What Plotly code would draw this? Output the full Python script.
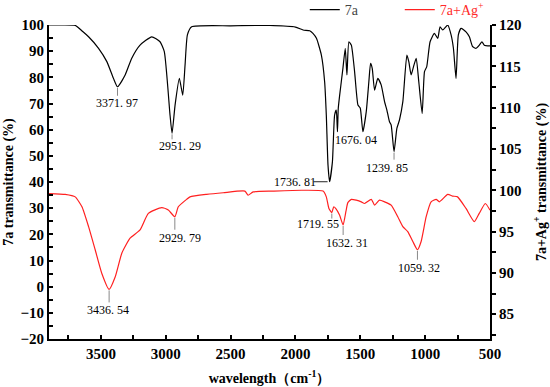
import plotly.graph_objects as go

# ---- data ----
black_wn = [3900, 3800, 3697, 3640, 3595, 3518, 3454, 3403, 3371.97, 3313, 3262, 3198, 3108, 3044, 3011,
            2967, 2951.29, 2928, 2895, 2869, 2851, 2833, 2800, 2500, 2198, 2000, 1941, 1890, 1865, 1838,
            1800, 1775, 1762, 1749, 1736.81, 1715, 1698, 1685, 1676.04, 1670, 1659, 1634, 1616, 1603,
            1588, 1569, 1544, 1518, 1500, 1480, 1454, 1434, 1421, 1408, 1390, 1365, 1339, 1313, 1295,
            1275, 1262, 1239.85, 1218, 1198, 1172, 1141, 1126, 1108, 1090, 1069, 1049, 1023, 1005, 988,
            962, 929, 903, 885, 865, 826, 800, 782, 762, 744, 723, 685, 659, 634, 608, 582, 562, 544, 500]
black_val = [100, 100, 99.8, 97.5, 95.5, 91.1, 86.0, 79.6, 76.4, 80.9, 87.3, 92.3, 95.5, 93.6, 89.8,
             65.6, 58.6, 69.4, 79.6, 73.2, 84.7, 96.2, 99.3, 99.7, 99.8, 99.2, 98.1, 97.8, 96.8, 94.9,
             88.5, 78.3, 65.6, 46.5, 40.1, 47.7, 65.6, 67.5, 59.2, 68.0, 73.2, 83.4, 91.1, 80.9,
             93.6, 92.3, 82.2, 69.4, 68.2, 59.2, 66.9, 78.3, 85.3, 83.4, 75.1, 79.6, 77.1, 70.7, 67.5,
             63.0, 61.8, 51.6, 60.5, 63.7, 70.7, 88.5, 86.0, 80.9, 84.0, 87.3, 78.3, 66.2, 82.2, 84.0,
             93.6, 96.8, 94.9, 99.3, 98.1, 100, 96.2, 91.1, 79.6, 96.2, 98.7, 97.4, 95.5, 91.7, 91.1,
             92.3, 93.6, 92.3, 92.0]

red_wn = [3900, 3775, 3698, 3646, 3595, 3544, 3492, 3436.54, 3390, 3338, 3275, 3198, 3134, 3031, 2980,
          2929.79, 2903, 2839, 2813, 2685, 2557, 2390, 2365, 2326, 2172, 1950, 1787, 1762, 1742, 1719.55,
          1705, 1690, 1660, 1632.31, 1610, 1596, 1569, 1531, 1492, 1467, 1415, 1390, 1352, 1313, 1262,
          1211, 1172, 1134, 1095, 1059.32, 1031, 992, 954, 915, 890, 826, 788, 750, 685, 621, 583, 536, 500]
red_val = [99.6, 99.5, 99.2, 98.0, 95.6, 92.8, 89.9, 88.0, 89.5, 92.4, 94.2, 95.2, 97.2, 97.9, 97.6,
           96.8, 98.0, 98.9, 99.2, 99.5, 99.7, 99.9, 99.4, 99.8, 99.9, 100.0, 99.9, 99.2, 97.8, 97.3,
           98.0, 97.8, 97.0, 95.8, 97.5, 98.5, 98.9, 98.8, 98.6, 98.4, 98.9, 98.2, 98.8, 98.6, 98.2,
           96.8, 95.6, 95.0, 93.8, 92.8, 93.8, 96.8, 98.6, 98.9, 98.6, 99.5, 99.3, 99.2, 97.8, 96.2, 97.2, 98.4, 97.6]

# labelled peaks
black_peaks = [3371.97, 2951.29, 1736.81, 1676.04, 1239.85]
black_peak_val = [76.4, 58.6, 40.1, 59.2, 51.6]
red_peaks = [3436.54, 2929.79, 1719.55, 1632.31, 1059.32]
red_peak_val = [88.0, 96.8, 97.3, 95.8, 92.8]

# label offsets (pixels) relative to the peak point
black_dx = [0, 8, -35, 19, -7]
black_dy = [-16, -13, 0, -8, -16]
black_line = [(-1, -9, 'v'), (-1, -6, 'v'), (-1, -14, 'h'), None, (-1, -8, 'v')]
red_dx = [-1, 5, -14, 4, 2]
red_dy = [-21, -21, -11, -18, -18]
red_line = [(-1, -13, 'v'), (-1, -13, 'v'), (-1, -6, 'v'), (-1, -10, 'v'), (-1, -10, 'v')]

SERIF = "Liberation Serif, Times New Roman, serif"

fig = go.Figure()
fig.add_trace(go.Scatter(x=black_wn, y=black_val, mode='lines', name='7a',
                         line=dict(color='black', width=1.2, shape='spline', smoothing=0.5), yaxis='y'))
fig.add_trace(go.Scatter(x=red_wn, y=red_val, mode='lines',
                         name='<span style="color:#ff2a2a">7a+Ag<sup>+</sup></span>',
                         line=dict(color='#ff2020', width=1.2, shape='spline', smoothing=0.5), yaxis='y2'))

annotations = []
shapes = []
for peaks, vals, dxs, dys, lines, yref in [
        (black_peaks, black_peak_val, black_dx, black_dy, black_line, 'y'),
        (red_peaks, red_peak_val, red_dx, red_dy, red_line, 'y2')]:
    for p, v, dx, dy, ln in zip(peaks, vals, dxs, dys, lines):
        annotations.append(dict(x=p, y=v, xref='x', yref=yref, text=f"{p:.2f}".replace('.', '. '),
                                showarrow=False, xshift=dx, yshift=dy,
                                font=dict(family=SERIF, size=12, color='black')))
        if ln is None:
            continue
        a, b, o = ln
        if o == 'v':
            shapes.append(dict(type='line', xref='x', yref=yref, x0=p, x1=p,
                               ysizemode='pixel', yanchor=v, y0=a, y1=b,
                               line=dict(color='#888888', width=1)))
        else:
            shapes.append(dict(type='line', xref='x', yref=yref, y0=v, y1=v,
                               xsizemode='pixel', xanchor=p, x0=-2, x1=-2 + b,
                               line=dict(color='#222222', width=1)))

tickfont = dict(family=SERIF, size=15, color='black', weight='bold')
titlefont = dict(family=SERIF, size=14, color='black', weight='bold')

fig.update_layout(
    width=550, height=387,
    margin=dict(l=49, r=60, t=25, b=48, autoexpand=False),
    paper_bgcolor='white', plot_bgcolor='white',
    showlegend=True,
    legend=dict(orientation='h', x=0.58, y=1.048, xanchor='left', yanchor='middle',
                font=dict(family=SERIF, size=14, color='#444'), bgcolor='rgba(0,0,0,0)',
                itemwidth=30, tracegroupgap=0, entrywidth=50, entrywidthmode='pixels'),
    xaxis=dict(range=[3900, 500], tickmode='linear', tick0=500, dtick=500, automargin=False,
               showline=True, linecolor='black', linewidth=2, mirror=False,
               ticks='inside', ticklen=4, tickwidth=1.5, tickcolor='black',
               minor=dict(dtick=250, tick0=500, ticks='inside', ticklen=4, tickcolor='black', tickwidth=1.5),
               showgrid=False, zeroline=False, tickfont=tickfont,
               title=dict(text='wavelength（cm<sup>-1</sup>）', font=titlefont, standoff=12)),
    yaxis=dict(range=[-20, 100], tickmode='linear', tick0=0, dtick=10, automargin=False,
               showline=True, linecolor='black', linewidth=2,
               ticks='inside', ticklen=4, tickwidth=1.5, tickcolor='black',
               minor=dict(dtick=5, ticks='inside', ticklen=4, tickcolor='black', tickwidth=1.5),
               showgrid=False, zeroline=False, tickfont=tickfont,
               title=dict(text='7a transmittance (%)', font=titlefont, standoff=4)),
    yaxis2=dict(range=[82, 120], overlaying='y', side='right', tickmode='linear', tick0=85, dtick=5,
                automargin=False,
                showline=True, linecolor='black', linewidth=2,
                ticks='outside', ticklen=4, tickwidth=1.5, tickcolor='black',
                minor=dict(dtick=2.5, tick0=85, ticks='outside', ticklen=4, tickcolor='black', tickwidth=1.5),
                showgrid=False, zeroline=False, tickfont=tickfont,
                title=dict(text='7a+Ag<sup>+</sup> transmittance (%)', font=titlefont, standoff=16)),
    annotations=annotations,
    shapes=shapes,
)

fig.write_html("out.html", config={'displayModeBar': False},
               post_script="document.body.style.margin='0';")
